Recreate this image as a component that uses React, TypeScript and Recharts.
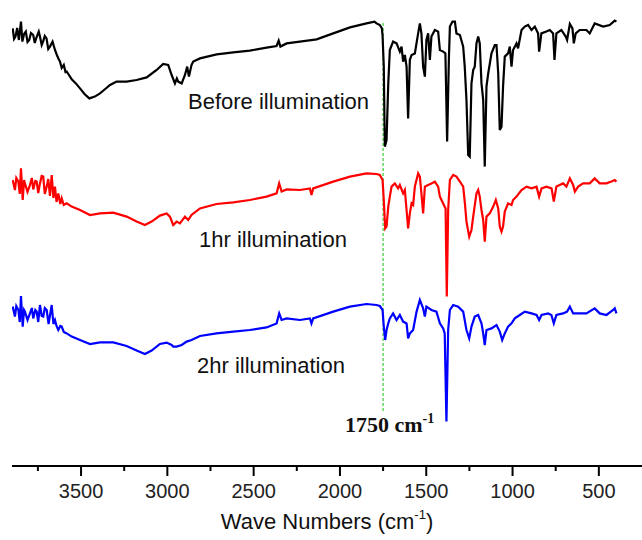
import { Line, LineChart, ReferenceLine, XAxis, YAxis } from 'recharts';

// wavenumber (cm-1) / relative transmittance pairs
const beforeWn = [
  3896, 3888, 3880, 3870, 3860, 3848, 3840, 3830, 3820, 3810, 3800, 3790, 3777, 3768, 3760, 3745, 3738, 3728,
  3720, 3710, 3700, 3690, 3680, 3665, 3651, 3640, 3630, 3622, 3612, 3600, 3590, 3583, 3570, 3554, 3530, 3506,
  3480, 3452, 3420, 3390, 3360, 3332, 3294, 3236, 3178, 3120, 3062, 3024, 2995, 2975, 2956, 2945, 2937, 2917,
  2898, 2885, 2875, 2860, 2850, 2811, 2714, 2618, 2522, 2425, 2367, 2355, 2345, 2309, 2232, 2135, 2039, 1942,
  1846, 1800, 1788, 1769, 1757, 1753, 1746, 1740, 1730, 1720, 1711, 1692, 1672, 1653, 1643, 1634, 1624, 1614,
  1605, 1595, 1585, 1566, 1547, 1537, 1528, 1518, 1508, 1499, 1489, 1479, 1470, 1450, 1431, 1421, 1402, 1389,
  1379, 1369, 1363, 1348, 1334, 1325, 1305, 1286, 1277, 1267, 1257, 1248, 1238, 1228, 1219, 1209, 1199, 1190,
  1180, 1170, 1161, 1151, 1141, 1122, 1103, 1093, 1083, 1074, 1064, 1055, 1045, 1026, 1016, 1006, 997, 977,
  968, 948, 929, 910, 890, 871, 852, 846, 833, 804, 784, 765, 757, 746, 717, 692, 684, 668, 653, 645, 634, 611,
  572, 553, 524, 475, 437, 408, 398,
];
const beforeT = [
  218.8, 213.5, 214.7, 219, 213, 222.2, 212.2, 216, 217.2, 212, 213, 216.5, 215.5, 211.5, 213.8, 217.2, 214.7, 210.5,
  212.2, 215, 213.8, 208.5, 209.7, 212.2, 208, 205.5, 203.5, 202.2, 199, 200.5, 197, 197.2, 195.5, 193.3, 191.3, 188.8,
  186, 183.8, 184.7, 186.3, 188.5, 190.5, 192.2, 192.2, 193, 194.3, 198, 201, 200.5, 195.5, 191.3, 193.8, 192.2, 191.3,
  195.5, 199.7, 194.7, 200.5, 202.2, 203.8, 205.8, 206.8, 207.7, 209.2, 210, 212.7, 209.7, 211.3, 212.2, 213.3, 216.3, 219.3,
  221.3, 222.2, 221.3, 220.5, 218.8, 215, 199.7, 159.7, 163, 191.3, 208, 212.2, 211.3, 207.2, 209.7, 202.2, 205.5, 199.7,
  173.8, 203, 205.5, 206.3, 216.3, 221.3, 216.3, 199.7, 194.7, 213, 216.3, 203, 214.7, 218, 217.2, 208, 207.2, 206.3,
  162.2, 203, 219.7, 222.2, 222.2, 216.3, 215.5, 209.7, 199.7, 183, 155.5, 154.7, 191.3, 198, 199.7, 211.3, 214.7, 211.3,
  191.3, 183, 149.7, 189.7, 196.3, 206.3, 210.5, 210.5, 196.3, 168, 169.7, 189.7, 204.7, 206.3, 209.7, 199.7, 208, 211.3,
  208.8, 218, 219.7, 220.5, 218, 219.7, 216.3, 207.2, 216.3, 217.2, 218, 216.3, 203, 216.3, 218, 214.7, 213, 221, 218.8, 211.3, 216.3, 218,
  218, 216.3, 221.3, 219.7, 220.5, 222.7, 222.2,
];

const oneHrWn = [
  3896, 3883, 3875, 3863, 3855, 3848, 3838, 3830, 3825, 3810, 3796, 3785, 3777, 3765, 3757, 3748, 3738, 3728,
  3719, 3710, 3699, 3690, 3680, 3670, 3660, 3651, 3642, 3632, 3620, 3612, 3600, 3583, 3554, 3506, 3448, 3390,
  3313, 3236, 3178, 3130, 3091, 3043, 3004, 2985, 2966, 2946, 2927, 2898, 2879, 2860, 2811, 2715, 2618, 2522,
  2425, 2367, 2352, 2338, 2309, 2232, 2174, 2165, 2155, 2039, 1942, 1846, 1788, 1769, 1753, 1746, 1738, 1730,
  1720, 1711, 1701, 1682, 1663, 1653, 1634, 1624, 1614, 1605, 1595, 1585, 1576, 1566, 1547, 1537, 1528, 1518,
  1508, 1489, 1470, 1450, 1431, 1421, 1402, 1388, 1381, 1373, 1363, 1344, 1325, 1305, 1286, 1276, 1267, 1251,
  1238, 1228, 1209, 1199, 1190, 1180, 1170, 1161, 1151, 1132, 1112, 1097, 1083, 1074, 1064, 1055, 1045, 1026,
  1006, 997, 977, 948, 919, 890, 861, 846, 832, 804, 774, 761, 746, 707, 688, 668, 649, 639, 620, 591, 553, 524,
  495, 456, 427, 408, 398,
];
const oneHrT = [
  143, 138, 144, 142.2, 136, 148.8, 133, 143, 141.3, 137, 140.5, 144, 138.3, 142.5, 142.2, 136.5, 141.3, 145,
  144.7, 136, 139.7, 143.5, 135, 145.5, 134, 139.7, 132, 136.3, 131, 133.8, 130.5, 131.3, 129.7, 128, 125.5, 126.3,
  126.7, 124.7, 122.2, 120.5, 122.2, 125.2, 126.3, 124.7, 120.5, 122.2, 121.3, 124.7, 123, 125.5, 128.8, 131, 131.8, 133,
  134.7, 136.3, 141.3, 137.2, 138.3, 138, 138.8, 135.5, 138.8, 142.2, 144.7, 146.3, 146, 145.5, 143, 133, 118.8, 119.7,
  129.7, 134.7, 139.7, 141.3, 138.8, 140.5, 136.3, 138, 128, 118.8, 126.3, 131.3, 130.5, 139.7, 146.3, 144.7, 136.3, 126.3,
  139.7, 140.5, 141.3, 142.2, 139.7, 134.7, 131.3, 128.8, 84.7, 128, 143, 145.5, 144.7, 142.2, 139.7, 131.3, 122.2, 114.7,
  118, 124.7, 136.3, 138, 134.7, 128, 123, 112.2, 124.7, 126.3, 129.7, 133, 128.8, 119.7, 117.2, 119.7, 127.2, 131.3,
  130.5, 133, 134.7, 138, 139.7, 138.8, 139.7, 134.7, 138.8, 139.7, 138.8, 132.2, 139.7, 141.3, 139.7, 143.8, 140.5, 137.2, 139.7, 141.3, 141.3, 143.8,
  141.3, 141.3, 142.2, 143, 142.2,
];

const twoHrWn = [
  3896, 3883, 3875, 3863, 3855, 3848, 3838, 3830, 3825, 3810, 3796, 3785, 3777, 3765, 3757, 3748, 3738, 3728,
  3719, 3710, 3699, 3688, 3670, 3660, 3651, 3642, 3632, 3620, 3612, 3600, 3583, 3554, 3506, 3448, 3390, 3313,
  3236, 3178, 3130, 3091, 3043, 3004, 2975, 2966, 2946, 2917, 2888, 2860, 2811, 2715, 2618, 2522, 2425, 2367,
  2352, 2338, 2309, 2232, 2174, 2165, 2155, 2039, 1942, 1846, 1788, 1769, 1753, 1746, 1738, 1730, 1720, 1711,
  1692, 1672, 1653, 1634, 1614, 1605, 1595, 1576, 1556, 1537, 1518, 1508, 1499, 1470, 1441, 1421, 1402, 1393,
  1383, 1373, 1363, 1344, 1315, 1286, 1267, 1251, 1238, 1219, 1199, 1180, 1170, 1161, 1151, 1122, 1093, 1074,
  1060, 1045, 1026, 1006, 987, 958, 929, 890, 861, 846, 832, 794, 775, 761, 746, 707, 684, 668, 649, 611, 572,
  524, 495, 456, 417, 408, 398,
];
const twoHrT = [
  79.7, 74.7, 80, 78, 72, 85, 69.7, 78, 77.2, 73, 76.3, 79, 73.8, 78, 77.2, 72, 80.5, 75,
  74.7, 79, 78, 71, 80.5, 71, 73, 70, 68, 70, 69.7, 67, 66.3, 64.7, 63, 61, 61.8, 61.8,
  60, 57.7, 56, 57.7, 61, 61.7, 60.5, 59.7, 59.7, 60.5, 62.2, 63, 65, 66.3, 67.2, 68, 69.3, 71.3,
  76.3, 73, 73.8, 73, 73.8, 71.3, 73.8, 77.2, 79.7, 81, 80.5, 80, 78, 69.7, 63, 68, 71.3, 73.8,
  76.3, 73, 75.5, 72.2, 71.3, 63.8, 66.3, 68, 77.2, 83, 78.8, 74.7, 79.7, 78, 77.2, 71.3, 68.8, 66.3,
  22.2, 68, 78, 80.5, 79.7, 77.2, 68, 63.8, 69.7, 74.7, 75.5, 71.3, 66.3, 60.5, 68, 68.8, 70.5, 67.2,
  63, 66.3, 69.7, 71.3, 73.8, 75.5, 77.2, 76.3, 75.5, 73, 75.5, 76.3, 75.5, 71.3, 75.5, 76.3, 77.2, 79.7, 76.3, 76.3, 76.3,
  78.8, 76.3, 75.5, 78, 78.8, 76.3,
];

const xTicks = [3750, 3500, 3250, 3000, 2750, 2500, 2250, 2000, 1750, 1500, 1250, 1000, 750, 500];
const markerWn = 1750;

const toPoints = (wn: number[], t: number[]) => wn.map((w, i) => ({ wn: w, t: t[i] }));

const series = [
  { key: 'before', color: '#000000', data: toPoints(beforeWn, beforeT) },
  { key: 'onehr', color: '#ff0000', data: toPoints(oneHrWn, oneHrT) },
  { key: 'twohr', color: '#0000ff', data: toPoints(twoHrWn, twoHrT) },
];

const sans = '"Liberation Sans", Arial, sans-serif';
const serif = '"Liberation Serif", "Times New Roman", serif';

function AxisTick(props: any) {
  const { x, y, payload } = props;
  const major = payload.value % 500 === 0;
  return (
    <g>
      <line x1={x} x2={x} y1={y} y2={y + (major ? 10 : 5)} stroke="#000" strokeWidth={2} />
      {major && (
        <text x={x} y={y + 32} textAnchor="middle" fontSize={20} fontFamily={sans} fill="#222">
          {payload.value}
        </text>
      )}
    </g>
  );
}

export default function App() {
  return (
    <div style={{ position: 'absolute', left: 0, top: 0, width: 642, height: 540, background: '#fff' }}>
      <LineChart width={642} height={540} margin={{ top: 0, right: 0, bottom: 0, left: 12 }}>
        <XAxis
          type="number"
          dataKey="wn"
          domain={[250, 3900]}
          reversed
          allowDataOverflow
          ticks={xTicks}
          interval={0}
          tickSize={0}
          tickMargin={0}
          tickLine={false}
          tick={<AxisTick />}
          height={74}
          axisLine={{ stroke: '#000', strokeWidth: 2 }}
        />
        <YAxis type="number" domain={[0, 233]} hide />
        <ReferenceLine
          segment={[
            { x: markerWn, y: 221.5 },
            { x: markerWn, y: 27.5 },
          ]}
          stroke="#5fd85f"
          strokeWidth={1.5}
          strokeDasharray="3 2"
        />
        {series.map((s) => (
          <Line
            key={s.key}
            data={s.data}
            dataKey="t"
            type="linear"
            stroke={s.color}
            strokeWidth={2.2}
            dot={false}
            isAnimationActive={false}
          />
        ))}
      </LineChart>
      <svg
        width={642}
        height={540}
        style={{ position: 'absolute', left: 0, top: 0, pointerEvents: 'none' }}
      >
        <text x={188} y={109} fontSize={22} fontFamily={sans} fill="#111">Before illumination</text>
        <text x={199} y={247} fontSize={22} fontFamily={sans} fill="#111">1hr illumination</text>
        <text x={197} y={373} fontSize={22} fontFamily={sans} fill="#111">2hr illumination</text>
        <text x={345} y={432} fontSize={22} fontWeight="bold" fontFamily={serif} fill="#111">
          1750 cm<tspan fontSize={14} dy={-9}>-1</tspan>
        </text>
        <text x={327} y={529} textAnchor="middle" fontSize={22} fontFamily={sans} fill="#111">
          Wave Numbers (cm<tspan fontSize={13} dy={-10}>-1</tspan>
          <tspan dy={10}>)</tspan>
        </text>
      </svg>
    </div>
  );
}
